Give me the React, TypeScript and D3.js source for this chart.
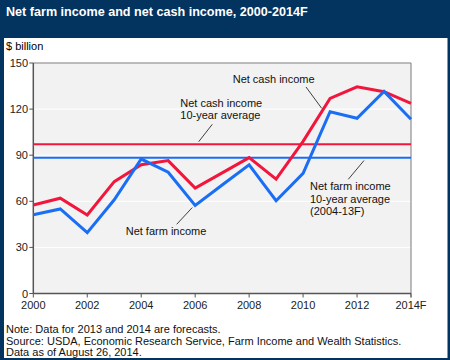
import React from "react";
import * as d3 from "d3";

// values ($ billion)
const years = [2000, 2001, 2002, 2003, 2004, 2005, 2006, 2007, 2008, 2009, 2010, 2011, 2012, 2013, 2014];
const netFarmIncome = [51.3, 55.0, 39.6, 61.0, 87.5, 78.9, 57.3, 70.6, 83.8, 60.4, 78.2, 118.3, 114.0, 131.5, 113.4];
const netCashIncome = [57.6, 62.0, 51.1, 72.8, 83.8, 86.5, 68.6, 78.5, 88.4, 74.4, 99.0, 127.0, 134.5, 131.3, 123.8];
const netFarmAvg = 88.4;
const netCashAvg = 97.1;
const yTicks = [0, 30, 60, 90, 120, 150];
const xTicks = [2000, 2002, 2004, 2006, 2008, 2010, 2012, 2014];
const xTickLabels = ["2000", "2002", "2004", "2006", "2008", "2010", "2012", "2014F"];
const notes = [
  "Note: Data for 2013 and 2014 are forecasts.",
  "Source: USDA, Economic Research Service, Farm Income and Wealth Statistics.",
  "Data as of August 26, 2014.",
];

const W = 450;
const H = 360;
const navy = "#03335f";
const red = "#f2163d";
const blue = "#1a6ef5";
const font = "Arial, 'Liberation Sans', sans-serif";

export default function App() {
  const left = 33.3;
  const right = 411;
  const top = 63;
  const bottom = 293.5;

  const x = d3.scaleLinear().domain([2000, 2014]).range([left, right]);
  const y = d3.scaleLinear().domain([0, 150]).range([bottom, top]);

  const line = d3
    .line<number>()
    .x((_, i) => x(years[i]))
    .y((d) => y(d));

  return (
    <svg
      width={W}
      height={H}
      style={{ position: "absolute", left: 0, top: 0 }}
      fontFamily={font}
    >
      <rect x={0} y={0} width={W} height={H} fill={navy} />
      <text x={6} y={15.5} fill="#fff" fontSize={12.6} fontWeight="bold">
        Net farm income and net cash income, 2000-2014F
      </text>
      <rect x={4} y={38} width={443.5} height={320} fill="#fff" />

      <text x={6} y={50} fontSize={11} fill="#000">
        $ billion
      </text>

      {/* plot area */}
      <rect x={left} y={top} width={right - left} height={bottom - top} fill="#f2f2f2" />
      {yTicks.slice(1).map((t) => (
        <line key={t} x1={left} x2={right} y1={y(t)} y2={y(t)} stroke="#fff" strokeWidth={1} />
      ))}
      <line x1={left} x2={right} y1={top} y2={top} stroke="#7a7a7a" strokeWidth={1} />
      <line x1={right} x2={right} y1={top} y2={bottom + 4} stroke="#7a7a7a" strokeWidth={1} />

      {/* y axis */}
      <line x1={left} x2={left} y1={top} y2={bottom} stroke="#555" strokeWidth={1.5} />
      {yTicks.map((t) => (
        <g key={t}>
          <line x1={left - 4} x2={left} y1={y(t)} y2={y(t)} stroke="#555" strokeWidth={1} />
          <text x={28} y={y(t) + 4} fontSize={11} textAnchor="end" fill="#222">
            {t}
          </text>
        </g>
      ))}

      {/* x axis */}
      <line x1={left} x2={right} y1={bottom} y2={bottom} stroke="#555" strokeWidth={1.5} />
      {xTicks.map((t, i) => (
        <g key={t}>
          <line x1={x(t)} x2={x(t)} y1={bottom} y2={bottom + 4} stroke="#555" strokeWidth={1} />
          <text x={x(t)} y={308.5} fontSize={11} textAnchor="middle" fill="#222">
            {xTickLabels[i]}
          </text>
        </g>
      ))}

      {/* 10-year averages */}
      <line x1={left} x2={right} y1={y(netCashAvg)} y2={y(netCashAvg)} stroke={red} strokeWidth={2} />
      <line x1={left} x2={right} y1={y(netFarmAvg)} y2={y(netFarmAvg)} stroke={blue} strokeWidth={2} />

      {/* series */}
      <path d={line(netCashIncome) ?? ""} fill="none" stroke={red} strokeWidth={3} strokeLinejoin="miter" />
      <path d={line(netFarmIncome) ?? ""} fill="none" stroke={blue} strokeWidth={3} strokeLinejoin="miter" />

      {/* annotations */}
      <g fontSize={11} fill="#111">
        <text x={232.7} y={83.3}>Net cash income</text>
        <line x1={306} y1={87} x2={321.7} y2={108.3} stroke="#111" strokeWidth={0.8} />

        <text x={180.3} y={107.3}>Net cash income</text>
        <text x={180.3} y={119.3}>10-year average</text>
        <line x1={212.3} y1={124.3} x2={198.7} y2={141.7} stroke="#111" strokeWidth={0.8} />

        <text x={310} y={190.3}>Net farm income</text>
        <text x={310} y={202.5}>10-year average</text>
        <text x={310} y={214.5}>(2004-13F)</text>
        <line x1={364} y1={160.5} x2={348.3} y2={179.3} stroke="#111" strokeWidth={0.8} />

        <text x={125.7} y={235}>Net farm income</text>
        <line x1={192.3} y1={207.5} x2={176.7} y2={224.3} stroke="#111" strokeWidth={0.8} />
      </g>

      {/* footnotes */}
      {notes.map((n, i) => (
        <text key={i} x={6} y={333 + i * 11.5} fontSize={11} fill="#111">
          {n}
        </text>
      ))}
    </svg>
  );
}
